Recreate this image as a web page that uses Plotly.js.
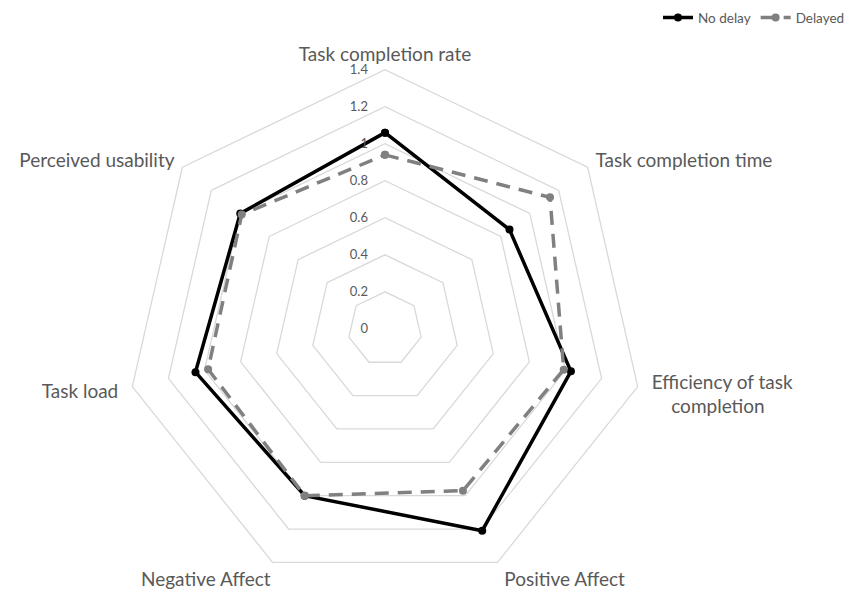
<!DOCTYPE html>
<html><head><meta charset="utf-8">
<script src="https://cdn.plot.ly/plotly-3.0.1.min.js"></script>
<style>html,body{margin:0;padding:0;background:#fff;overflow:hidden}</style>
</head><body>
<div id="chart" style="width:850px;height:594px"></div>
<script>
const categories = ["Task completion rate", "Task completion time", "Efficiency of task completion", "Positive Affect", "Negative Affect", "Task load", "Perceived usability"];
const categoryLabels = ["Task completion rate", "\u00a0Task completion time", "\u00a0\u00a0Efficiency of task<br>\u00a0\u00a0\u00a0\u00a0\u00a0\u00a0completion", "\u00a0Positive Affect", "Negative Affect", "Task load\u00a0\u00a0", "Perceived usability\u00a0"];
const noDelay = [1.06, 0.86, 1.03, 1.21, 1.00, 1.05, 1.00];
const delayed = [0.94, 1.14, 0.99, 0.97, 1.00, 0.98, 0.99];
const radialTicks = [0, 0.2, 0.4, 0.6, 0.8, 1, 1.2, 1.4];

const close = a => a.concat([a[0]]);
const theta = close(categories);

const traces = [
  {type: 'scatterpolar', name: 'No delay', r: close(noDelay), theta: theta, mode: 'lines+markers',
   line: {color: '#000000', width: 3.5}, marker: {color: '#000000', size: 8}},
  {type: 'scatterpolar', name: 'Delayed', r: close(delayed), theta: theta, mode: 'lines+markers',
   line: {color: '#808080', width: 3.5, dash: '14px,9px'}, marker: {color: '#808080', size: 8}}
];

const layout = {
  width: 850, height: 594,
  margin: {l: 0, r: 0, t: 0, b: 0},
  paper_bgcolor: '#ffffff',
  font: {family: 'Lato, "Open Sans", sans-serif', color: '#595959'},
  showlegend: true,
  legend: {orientation: 'h', x: 1, xanchor: 'right', y: 0.97, yanchor: 'middle', font: {size: 13.5, color: '#595959'}},
  polar: {
    domain: {x: [0.1480, 0.7579], y: [0.01, 0.8827]},
    gridshape: 'linear',
    bgcolor: '#ffffff',
    radialaxis: {range: [0, 1.4], tickvals: radialTicks, showline: false, showgrid: true,
      gridcolor: '#d9d9d9', gridwidth: 1.3, angle: 90, tickangle: 90, side: 'counterclockwise',
      ticks: 'outside', ticklen: 12, tickcolor: 'rgba(0,0,0,0)',
      tickfont: {size: 13, color: '#595959'}},
    angularaxis: {direction: 'clockwise', rotation: 90, showgrid: false, showline: true,
      tickvals: categories, ticktext: categoryLabels,
      linecolor: '#d9d9d9', linewidth: 1.3, ticks: '', tickfont: {size: 19, color: '#595959'}}
  }
};
Plotly.newPlot('chart', traces, layout, {displayModeBar: false, staticPlot: true});
</script>
</body></html>
